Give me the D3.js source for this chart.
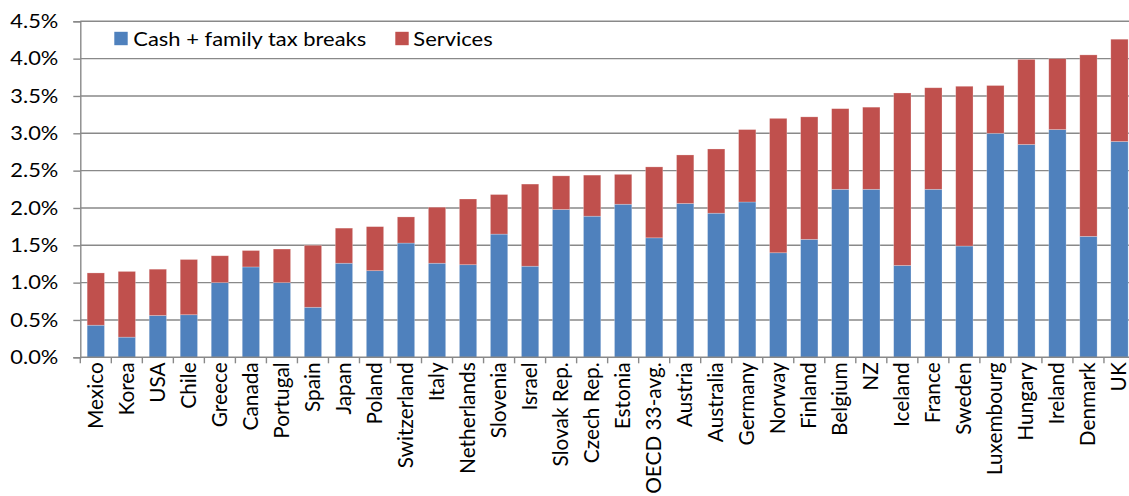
<!DOCTYPE html>
<html>
<head>
<meta charset="utf-8">
<script src="https://cdn.jsdelivr.net/npm/d3@7"></script>
<style>
  html, body { margin: 0; padding: 0; background: #fff; }
  svg { display: block; }
  text { font-family: Lato, "Open Sans", sans-serif; fill: #000; }
</style>
</head>
<body>
<svg id="chart" width="1129" height="496"></svg>
<script>
// Public spending on family benefits, % of GDP
const countries = ["Mexico","Korea","USA","Chile","Greece","Canada","Portugal","Spain","Japan","Poland",
  "Switzerland","Italy","Netherlands","Slovenia","Israel","Slovak Rep.","Czech Rep.","Estonia","OECD 33-avg.",
  "Austria","Australia","Germany","Norway","Finland","Belgium","NZ","Iceland","France","Sweden","Luxembourg",
  "Hungary","Ireland","Denmark","UK"];

const cashTaxBreaks = [0.43,0.27,0.56,0.57,1.00,1.21,1.00,0.67,1.26,1.16,
  1.53,1.26,1.24,1.65,1.22,1.98,1.89,2.05,1.60,
  2.06,1.93,2.08,1.40,1.58,2.25,2.25,1.23,2.25,1.49,3.00,
  2.85,3.05,1.62,2.89];

const services = [0.70,0.88,0.62,0.74,0.36,0.22,0.45,0.83,0.47,0.59,
  0.35,0.75,0.88,0.53,1.10,0.45,0.55,0.40,0.95,
  0.65,0.86,0.97,1.80,1.64,1.08,1.10,2.31,1.36,2.14,0.64,
  1.14,0.95,2.43,1.37];

const seriesNames = ["Cash + family tax breaks", "Services"];
const seriesColors = ["#4F81BD", "#C0504D"];
const yTicks = [0, 0.5, 1.0, 1.5, 2.0, 2.5, 3.0, 3.5, 4.0, 4.5];

const svg = d3.select("#chart");
const W = 1129, H = 496;

const plotLeft = 80.3, plotTop = 21.3, plotBottom = 357.3;
const step = 31.02;
const x = d3.scaleBand()
  .domain(countries)
  .range([plotLeft, plotLeft + step * countries.length])
  .paddingInner(0.442)
  .paddingOuter(0.221);
const y = d3.scaleLinear().domain([0, 4.5]).range([plotBottom, plotTop]);

const rows = countries.map((c, i) => ({ country: c, cash: cashTaxBreaks[i], services: services[i] }));
const stack = d3.stack().keys(["cash", "services"]);
const layers = stack(rows);

const gridColor = "#898989";
const TX = 1.12;  // horizontal stretch of horizontal type

// gridlines
svg.append("g").selectAll("line").data(yTicks.slice(1)).join("line")
  .attr("x1", plotLeft).attr("x2", W)
  .attr("y1", d => y(d)).attr("y2", d => y(d))
  .attr("stroke", gridColor).attr("stroke-width", 1.4);

// bars
svg.append("g").selectAll("g").data(layers).join("g")
  .attr("fill", (d, i) => seriesColors[i])
  .selectAll("rect").data(d => d).join("rect")
  .attr("x", d => x(d.data.country))
  .attr("width", x.bandwidth())
  .attr("y", d => y(d[1]))
  .attr("height", d => y(d[0]) - y(d[1]))
  .attr("stroke", "rgba(255,255,255,0.35)")
  .attr("stroke-width", 0.7);

// y axis
const yAxis = d3.axisLeft(y).tickValues(yTicks).tickSize(7).tickPadding(15)
  .tickFormat(d => d3.format(".1f")(d) + "%");
const gy = svg.append("g").attr("transform", `translate(${plotLeft},0)`).call(yAxis);
gy.select(".domain").attr("stroke", gridColor).attr("stroke-width", 1.4);
gy.selectAll(".tick line").attr("stroke", gridColor).attr("stroke-width", 1.4);
gy.selectAll(".tick text")
  .style("font-family", "Lato, sans-serif")
  .attr("font-size", 19.5)
  .attr("fill", "#000")
  .each(function() {
    const t = d3.select(this);
    const xx = +t.attr("x");
    t.attr("x", null).attr("transform", `translate(${xx},0) scale(${TX},1)`);
  });

// x axis
svg.append("line")
  .attr("x1", plotLeft).attr("x2", W)
  .attr("y1", plotBottom).attr("y2", plotBottom)
  .attr("stroke", gridColor).attr("stroke-width", 1.4);
svg.append("g").selectAll("line").data(d3.range(countries.length + 1)).join("line")
  .attr("x1", i => plotLeft + i * x.step()).attr("x2", i => plotLeft + i * x.step())
  .attr("y1", plotBottom).attr("y2", plotBottom + 6)
  .attr("stroke", gridColor).attr("stroke-width", 1.4);

svg.append("g").selectAll("text").data(countries).join("text")
  .attr("transform", d => `translate(${x(d) + x.bandwidth() / 2},${plotBottom + 5}) rotate(-90)`)
  .attr("text-anchor", "end")
  .attr("dy", "0.33em")
  .attr("font-size", 20.8)
  .text(d => d);

// legend
const legendPos = [{ sx: 114.3, tx: 133.3 }, { sx: 395.3, tx: 413.3 }];
const lg = svg.append("g").selectAll("g").data(seriesNames).join("g");
lg.append("rect")
  .attr("x", (d, i) => legendPos[i].sx).attr("y", 31.8)
  .attr("width", 13.4).attr("height", 13.4)
  .attr("fill", (d, i) => seriesColors[i]);
lg.append("text")
  .attr("transform", (d, i) => `translate(${legendPos[i].tx},45.5) scale(${TX},1)`)
  .attr("font-size", 19.6)
  .text(d => d);
</script>
</body>
</html>
